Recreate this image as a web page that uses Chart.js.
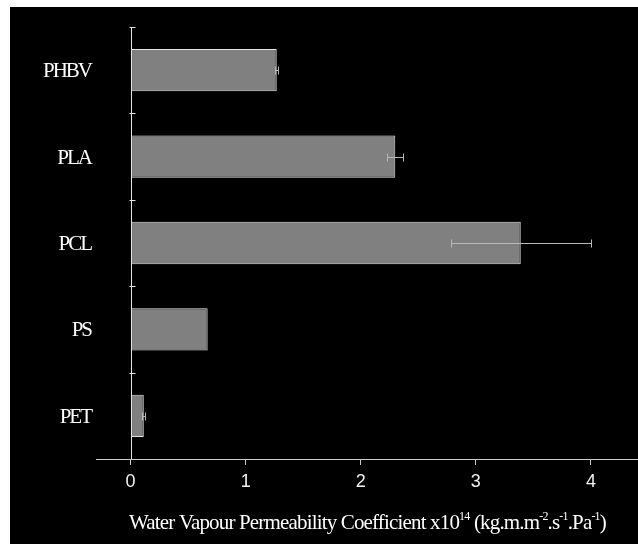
<!DOCTYPE html>
<html>
<head>
<meta charset="utf-8">
<script src="https://cdn.jsdelivr.net/npm/chart.js@4/dist/chart.umd.min.js"></script>
<style>
  html, body { margin: 0; padding: 0; background: #ffffff; }
  #chart { position: absolute; left: 10px; top: 7px; background: #000000; }
</style>
</head>
<body>
<canvas id="chart" width="628" height="537"></canvas>
<script>
// polymers, top to bottom
var polymers = ['PHBV', 'PLA', 'PCL', 'PS', 'PET'];
// permeability coefficient (x10^14 kg.m.m-2.s-1.Pa-1)
var permeability = [1.27, 2.30, 3.39, 0.67, 0.115];
// standard deviation
var permeabilityErr = [0.013, 0.07, 0.61, 0, 0.015];
var xTicks = [0, 1, 2, 3, 4];

/*
 * y axis drawn at x = 0 with the polymer names beside it
 * */
var yAxisPlugin = {
    id: 'yAxisPlugin',
    afterDraw: function(chart) {
        var ctx = chart.ctx;
        var area = chart.chartArea;
        var xs = chart.scales.x;
        var ys = chart.scales.y;
        var x0 = Math.round(xs.getPixelForValue(0)) + 0.5;
        var step = (area.bottom - area.top) / polymers.length;

        ctx.save();
        ctx.strokeStyle = '#e6e6e6';
        ctx.lineWidth = 1;
        ctx.beginPath();
        ctx.moveTo(x0, area.top);
        ctx.lineTo(x0, area.bottom);
        for (var k = 0; k < polymers.length; k++) {
            var yy = Math.round(area.top + k * step) + 0.5;
            ctx.moveTo(x0 - 2, yy);
            ctx.lineTo(x0 + 4, yy);
        }
        ctx.stroke();

        ctx.fillStyle = '#ffffff';
        ctx.font = '21px "Liberation Serif"';
        ctx.letterSpacing = '-2px';
        ctx.textAlign = 'right';
        ctx.textBaseline = 'alphabetic';
        for (var i = 0; i < polymers.length; i++) {
            var yc = ys.getPixelForValue(i);
            ctx.fillText(polymers[i], 81, yc + 7);
        }
        ctx.restore();
    }
};

/*
 * error bars at the end of each bar
 * */
var errorBarPlugin = {
    id: 'errorBarPlugin',
    afterDatasetsDraw: function(chart) {
        var ctx = chart.ctx;
        var xs = chart.scales.x;
        var ys = chart.scales.y;
        ctx.save();
        ctx.strokeStyle = '#b8b8b8';
        ctx.lineWidth = 1;
        for (var i = 0; i < permeability.length; i++) {
            if (!permeabilityErr[i]) continue;
            var yc = Math.round(ys.getPixelForValue(i)) + 0.5;
            var lo = Math.round(xs.getPixelForValue(permeability[i] - permeabilityErr[i])) + 0.5;
            var hi = Math.round(xs.getPixelForValue(permeability[i] + permeabilityErr[i])) + 0.5;
            ctx.beginPath();
            ctx.moveTo(lo, yc);
            ctx.lineTo(hi, yc);
            ctx.moveTo(lo, yc - 4);
            ctx.lineTo(lo, yc + 4);
            ctx.moveTo(hi, yc - 4);
            ctx.lineTo(hi, yc + 4);
            ctx.stroke();
        }
        ctx.restore();
    }
};

/*
 * x axis title with superscripts
 * */
var titlePlugin = {
    id: 'titlePlugin',
    afterDraw: function(chart) {
        var ctx = chart.ctx;
        var parts = [
            ['Water Vapour Permeability Coefficient x10', false],
            ['14', true],
            [' (kg.m.m', false],
            ['-2', true],
            ['.s', false],
            ['-1', true],
            ['.Pa', false],
            ['-1', true],
            [')', false]
        ];
        var left = 119, right = 596, base = 522;
        var mainFont = '21px "Liberation Serif"';
        var supFont = '12px "Liberation Serif"';

        ctx.save();
        ctx.letterSpacing = '0px';
        var natural = 0, chars = 0;
        parts.forEach(function(p) {
            ctx.font = p[1] ? supFont : mainFont;
            natural += ctx.measureText(p[0]).width;
            chars += p[0].length;
        });
        var spacing = (right - left - natural) / chars;
        ctx.letterSpacing = spacing.toFixed(2) + 'px';

        ctx.fillStyle = '#ffffff';
        ctx.textAlign = 'left';
        ctx.textBaseline = 'alphabetic';
        var x = left;
        parts.forEach(function(p) {
            ctx.font = p[1] ? supFont : mainFont;
            ctx.fillText(p[0], x, p[1] ? base - 9 : base);
            x += ctx.measureText(p[0]).width;
        });
        ctx.restore();
    }
};

var ctx = document.getElementById('chart').getContext('2d');

var chart = new Chart(ctx, {
    type: 'bar',
    data: {
        labels: polymers,
        datasets: [{
            data: permeability,
            backgroundColor: '#808080',
            borderColor: '#e4e4e4',
            borderWidth: 1,
            borderSkipped: false,
            categoryPercentage: 1,
            barPercentage: 0.49
        }]
    },
    options: {
        indexAxis: 'y',
        responsive: false,
        devicePixelRatio: 1,
        animation: false,
        layout: {
            padding: { left: 86, top: 20, right: 1, bottom: 0 }
        },
        plugins: {
            legend: { display: false },
            tooltip: { enabled: false }
        },
        scales: {
            x: {
                type: 'linear',
                min: -0.3,
                max: 4.4,
                afterBuildTicks: function(scale) {
                    scale.ticks = xTicks.map(function(v) { return { value: v }; });
                },
                afterFit: function(scale) {
                    scale.height = 85;
                },
                grid: {
                    drawOnChartArea: false,
                    drawTicks: true,
                    tickLength: 6,
                    color: '#cccccc'
                },
                border: { display: true, color: '#cccccc', width: 1 },
                ticks: {
                    color: '#f2f2f2',
                    padding: 6,
                    maxRotation: 0,
                    font: { size: 18, family: '"Liberation Sans"' }
                }
            },
            y: {
                type: 'category',
                display: false,
                offset: true
            }
        }
    },
    plugins: [yAxisPlugin, errorBarPlugin, titlePlugin]
});
</script>
</body>
</html>
